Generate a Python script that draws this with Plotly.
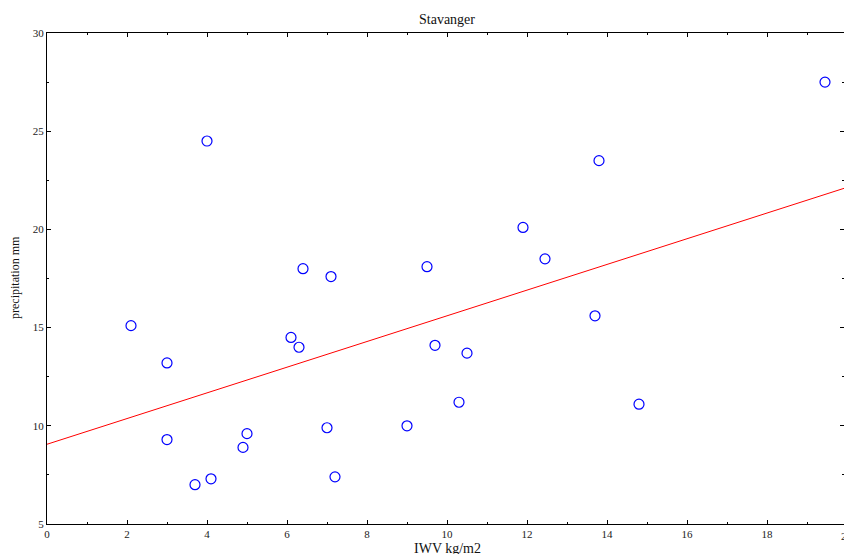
import plotly.graph_objects as go

iwv = [4.0, 19.45, 13.8, 11.9, 12.45, 2.1, 6.4, 7.1, 9.5, 13.7, 3.0, 6.1, 6.3,
       9.7, 10.5, 10.3, 14.8, 3.0, 5.0, 4.9, 7.0, 9.0, 3.7, 4.1, 7.2]
precip = [24.5, 27.5, 23.5, 20.1, 18.5, 15.1, 18.0, 17.6, 18.1, 15.6, 13.2, 14.5, 14.0,
          14.1, 13.7, 11.2, 11.1, 9.3, 9.6, 8.9, 9.9, 10.0, 7.0, 7.3, 7.4]

# regression line
fit_intercept = 9.06
fit_slope = 0.654

title_text = "Stavanger"
x_label = "IWV kg/m2"
y_label = "precipitation mm"
x_ticks = [0, 2, 4, 6, 8, 10, 12, 14, 16, 18]
y_ticks = [5, 10, 15, 20, 25, 30]

x_max_visible = 19.925
line_x = [0, x_max_visible]
line_y = [fit_intercept + fit_slope * v for v in line_x]

W, H = 844, 554
ML, MT, MB, MR = 47, 33, 30, 0
serif = "Liberation Serif, Times New Roman, serif"

fig = go.Figure()
fig.add_trace(go.Scatter(x=line_x, y=line_y, mode="lines",
                         line=dict(color="#ff0000", width=1), showlegend=False))
fig.add_trace(go.Scatter(x=iwv, y=precip, mode="markers",
                         marker=dict(symbol="circle-open", size=10, color="#0000ff",
                                     line=dict(width=1.2, color="#0000ff")),
                         showlegend=False))
# invisible trace for right-side ticks
fig.add_trace(go.Scatter(x=[0], y=[5], yaxis="y2", mode="markers",
                         marker=dict(opacity=0), showlegend=False, hoverinfo="skip"))

tickfont = dict(family=serif, size=11, color="#222")
fig.update_layout(
    width=W, height=H,
    margin=dict(l=ML, r=MR, t=MT, b=MB),
    plot_bgcolor="white", paper_bgcolor="white",
    xaxis=dict(range=[0, x_max_visible], tickvals=x_ticks, ticktext=[str(v) for v in x_ticks],
               ticks="inside", ticklen=4, tickwidth=1, tickcolor="black",
               showline=True, linecolor="black", linewidth=1.3, mirror="ticks",
               showgrid=False, zeroline=False, tickfont=tickfont,
               minor=dict(dtick=1, tick0=0, ticks="inside", ticklen=2, tickcolor="black", showgrid=False)),
    yaxis=dict(range=[5, 30], tickvals=y_ticks,
               ticks="inside", ticklen=4, tickwidth=1, tickcolor="black",
               showline=True, linecolor="black", linewidth=1.3, mirror=False,
               showgrid=False, zeroline=False, tickfont=tickfont,
               minor=dict(dtick=2.5, tick0=0, ticks="inside", ticklen=2, tickcolor="black", showgrid=False)),
    yaxis2=dict(range=[5, 30], overlaying="y", side="right", tickvals=y_ticks,
                ticks="inside", ticklen=4, tickwidth=1, tickcolor="black",
                showline=False, showgrid=False, zeroline=False, showticklabels=False,
                minor=dict(dtick=2.5, tick0=0, ticks="inside", ticklen=2, tickcolor="black", showgrid=False)),
    annotations=[
        dict(text=title_text, xref="paper", yref="paper", x=(447 - ML) / (W - ML - MR),
             y=1 + (MT - 20) / (H - MT - MB), xanchor="center", yanchor="middle",
             showarrow=False, font=dict(family=serif, size=14, color="#111")),
        dict(text=x_label, xref="paper", yref="paper", x=(447 - ML) / (W - ML - MR),
             y=-(548 - (H - MB)) / (H - MT - MB), xanchor="center", yanchor="middle",
             showarrow=False, font=dict(family=serif, size=14, color="#111")),
        dict(text=y_label, xref="paper", yref="paper", x=-(ML - 15) / (W - ML - MR),
             y=(H - MB - 278) / (H - MT - MB), xanchor="center", yanchor="middle",
             textangle=-90, showarrow=False, font=dict(family=serif, size=12, color="#111")),
        dict(text="20", xref="paper", yref="paper", x=20 / x_max_visible, y=0,
             yshift=-4, xanchor="center", yanchor="top",
             showarrow=False, font=tickfont),
    ],
)

fig.write_html("out.html", config={"displayModeBar": False},
               post_script="document.body.style.margin='0';document.body.style.overflow='hidden';")
